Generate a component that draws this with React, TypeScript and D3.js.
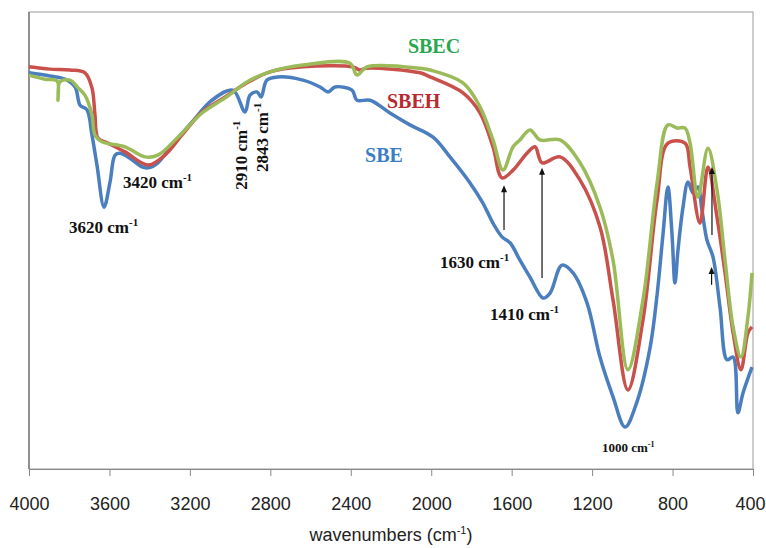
import React, { useEffect, useRef } from "react";
import * as d3 from "d3";

// SBE spectrum (blue)
const sbeWave = [4000, 3896, 3821, 3771, 3746, 3712, 3687, 3662, 3627, 3597, 3572, 3548, 3508, 3438, 3408, 3359, 3289, 3190, 3090, 2986, 2926, 2901, 2866, 2846, 2817, 2762, 2638, 2553, 2513, 2478, 2394, 2369, 2304, 2205, 2106, 1991, 1907, 1807, 1743, 1693, 1648, 1608, 1559, 1509, 1444, 1409, 1350, 1295, 1225, 1161, 1096, 1036, 977, 912, 877, 847, 823, 803, 788, 773, 748, 723, 698, 674, 654, 629, 599, 564, 529, 499, 475, 450, 405];
const sbeT = [86.7, 86.0, 85.3, 83.6, 79.6, 78.6, 73.1, 66.5, 57.3, 62.8, 68.7, 69.1, 68.3, 66.1, 65.9, 67.0, 70.9, 75.9, 80.7, 82.9, 78.1, 81.8, 82.5, 81.4, 85.1, 85.8, 85.1, 83.6, 82.5, 83.6, 82.9, 80.7, 80.7, 77.9, 75.3, 72.6, 68.3, 62.6, 58.2, 53.8, 50.8, 49.5, 45.7, 42.0, 37.4, 38.5, 44.6, 42.9, 36.3, 24.5, 15.8, 9.2, 14.7, 26.5, 38.1, 51.6, 61.7, 51.6, 40.7, 47.9, 57.3, 62.8, 60.4, 61.7, 56.7, 50.1, 46.4, 35.4, 23.9, 24.5, 12.3, 16.6, 22.3];

// SBEH spectrum (red)
const sbehWave = [4000, 3896, 3796, 3722, 3687, 3672, 3657, 3607, 3523, 3408, 3324, 3239, 3140, 3025, 2916, 2802, 2638, 2389, 2354, 2324, 2056, 2006, 1842, 1757, 1693, 1648, 1593, 1524, 1484, 1449, 1360, 1260, 1161, 1096, 1022, 947, 877, 823, 738, 713, 664, 624, 579, 539, 499, 460, 425, 405];
const sbehT = [88.0, 87.5, 87.3, 86.7, 83.4, 77.5, 72.4, 71.3, 69.4, 66.5, 68.7, 73.1, 78.1, 81.4, 84.5, 86.9, 88.0, 88.0, 87.3, 87.7, 86.7, 85.8, 82.3, 77.9, 70.5, 63.7, 65.4, 69.1, 70.5, 67.0, 68.3, 63.2, 53.0, 37.0, 17.3, 32.6, 58.9, 71.3, 71.3, 66.1, 53.8, 66.1, 55.1, 42.9, 29.8, 21.7, 29.8, 31.1];

// SBEC spectrum (green)
const sbecWave = [4000, 3920, 3860, 3856, 3846, 3796, 3756, 3722, 3687, 3672, 3637, 3523, 3423, 3359, 3259, 3140, 3025, 2916, 2802, 2638, 2404, 2369, 2319, 2056, 2006, 1842, 1757, 1693, 1643, 1593, 1559, 1509, 1459, 1360, 1260, 1161, 1096, 1022, 947, 877, 823, 778, 738, 713, 674, 624, 579, 539, 499, 460, 425, 405];
const sbecT = [86.2, 85.3, 84.9, 80.7, 84.7, 85.1, 83.4, 81.8, 77.5, 73.1, 71.6, 70.5, 68.3, 68.7, 72.6, 77.9, 81.2, 84.7, 86.9, 88.4, 88.8, 86.2, 88.0, 87.7, 87.3, 84.5, 79.2, 72.0, 65.4, 70.5, 72.0, 74.2, 72.0, 72.0, 67.0, 57.3, 45.7, 21.7, 37.0, 62.6, 75.3, 74.6, 74.6, 71.3, 59.5, 70.2, 61.1, 45.7, 31.1, 24.5, 33.3, 42.9];

const xTicks = [4000, 3600, 3200, 2800, 2400, 2000, 1600, 1200, 800, 400];

const seriesNames = ["SBE", "SBEH", "SBEC"];
const seriesLabelPos = [
  [2329, 67.2],
  [2220, 79.0],
  [2116, 91.0],
];

// peak annotations: label, wavenumber, transmittance
const peakLabels = ["3620", "3420", "2910", "2843", "1630", "1410", "1000"];
const peakPos = [
  [3801, 51.6],
  [3533, 61.5],
  [2916, 61.1],
  [2812, 65.0],
  [1956, 44.0],
  [1708, 32.6],
  [1151, 3.7],
];

// arrows: wavenumber, from, to
const arrowWave = [1638, 1449, 604, 606];
const arrowFrom = [52.3, 41.8, 51.2, 40.3];
const arrowTo = [62.1, 65.9, 66.1, 44.2];

const App = () => {
  const ref = useRef(null);
  const width = 766;
  const height = 548;
  const marginTop = 12;
  const marginRight = 13;
  const marginBottom = 79;
  const marginLeft = 29;

  useEffect(() => {
    const svg = d3.select(ref.current);
    svg.selectAll("*").remove();

    const x = d3.scaleLinear([4000, 400], [marginLeft, width - marginRight]);
    const y = d3.scaleLinear([0, 100], [height - marginBottom, marginTop]);

    svg.append("rect").attr("width", width).attr("height", height).attr("fill", "#fff");

    // plot frame
    svg
      .append("rect")
      .attr("x", marginLeft)
      .attr("y", marginTop)
      .attr("width", width - marginLeft - marginRight)
      .attr("height", height - marginTop - marginBottom)
      .attr("fill", "none")
      .attr("stroke", "#9a9a9a");
    svg
      .append("line")
      .attr("x1", marginLeft)
      .attr("x2", marginLeft)
      .attr("y1", marginTop)
      .attr("y2", height - marginBottom)
      .attr("stroke", "#555");

    // x axis
    svg
      .append("g")
      .attr("transform", `translate(0,${height - marginBottom})`)
      .call(d3.axisBottom(x).tickValues(xTicks).tickSize(7).tickSizeOuter(0).tickPadding(21).tickFormat(d3.format("d")))
      .call((g) => g.select(".domain").attr("stroke", "#888"))
      .call((g) => g.selectAll(".tick line").attr("stroke", "#888"))
      .call((g) =>
        g
          .selectAll(".tick text")
          .attr("fill", "#222")
          .attr("font-size", 18)
          .attr("font-family", "'Liberation Sans', Arial, sans-serif")
          .attr("dx", (d) => (d === 400 ? -3 : 0))
      );

    const title = svg
      .append("text")
      .attr("x", 391)
      .attr("y", 541)
      .attr("text-anchor", "middle")
      .attr("font-family", "'Liberation Sans', Arial, sans-serif")
      .attr("font-size", 18)
      .attr("fill", "#222");
    title.append("tspan").text("wavenumbers (cm");
    title.append("tspan").attr("dy", -7).attr("font-size", 11).text("-1");
    title.append("tspan").attr("dy", 7).text(")");

    const line = d3
      .line()
      .x((d) => x(d[0]))
      .y((d) => y(d[1]))
      .curve(d3.curveCatmullRom.alpha(0.5));

    const seriesData = [
      sbeWave.map((w, i) => [w, sbeT[i]]),
      sbehWave.map((w, i) => [w, sbehT[i]]),
      sbecWave.map((w, i) => [w, sbecT[i]]),
    ];
    const lineColors = ["#4a7ebf", "#c9504b", "#9bbb59"];
    const textColors = ["#3b7dc4", "#b82a2e", "#27a84f"];

    seriesData.forEach((data, i) => {
      svg
        .append("path")
        .attr("fill", "none")
        .attr("stroke", lineColors[i])
        .attr("stroke-width", 3.5)
        .attr("stroke-linejoin", "round")
        .attr("d", line(data));
    });

    seriesNames.forEach((name, i) => {
      svg
        .append("text")
        .attr("x", x(seriesLabelPos[i][0]))
        .attr("y", y(seriesLabelPos[i][1]))
        .attr("font-family", "'Liberation Serif', 'Times New Roman', serif")
        .attr("font-weight", "bold")
        .attr("font-size", 20)
        .attr("fill", textColors[i])
        .text(name);
    });

    // peak annotations
    peakLabels.forEach((label, i) => {
      const px = x(peakPos[i][0]);
      const py = y(peakPos[i][1]);
      const rotated = label === "2910" || label === "2843";
      const small = label === "1000";
      const t = svg
        .append("text")
        .attr("x", px)
        .attr("y", py)
        .attr("font-family", "'Liberation Serif', 'Times New Roman', serif")
        .attr("font-weight", "bold")
        .attr("font-size", small ? 13 : 17)
        .attr("fill", "#111");
      if (rotated) t.attr("transform", `rotate(-90,${px},${py})`);
      t.append("tspan").text(`${label} cm`);
      t.append("tspan")
        .attr("dy", small ? -5 : -7)
        .attr("font-size", small ? 8 : 11)
        .text("-1");
    });

    // arrows
    arrowWave.forEach((w, i) => {
      const ax = x(w);
      const y0 = y(arrowFrom[i]);
      const y1 = y(arrowTo[i]);
      svg
        .append("line")
        .attr("x1", ax)
        .attr("x2", ax)
        .attr("y1", y0)
        .attr("y2", y1 + 6)
        .attr("stroke", "#111")
        .attr("stroke-width", 1.2);
      svg
        .append("path")
        .attr("d", `M${ax},${y1} L${ax - 3},${y1 + 7} L${ax + 3},${y1 + 7} Z`)
        .attr("fill", "#111");
    });
  }, []);

  return (
    <div style={{ position: "absolute", left: 0, top: 0 }}>
      <svg ref={ref} width={width} height={height} viewBox={`0 0 ${width} ${height}`} />
    </div>
  );
};

export default App;
